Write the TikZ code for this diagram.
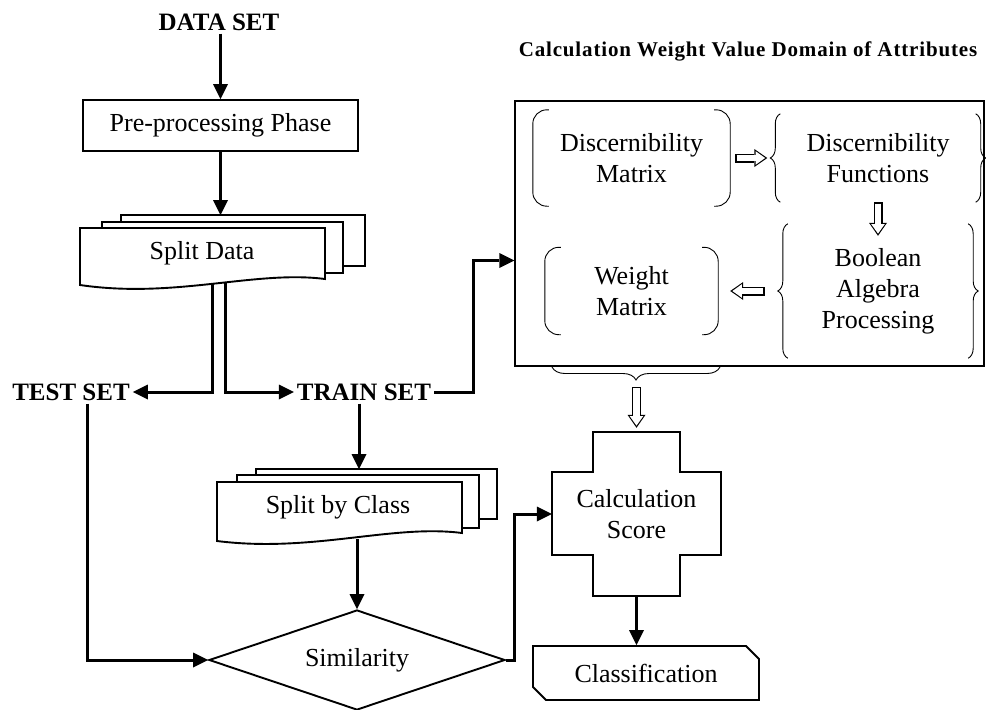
\documentclass[tikz,border=0pt]{standalone}
\usepackage{fontspec}
\setmainfont{Liberation Serif}
\newfontfamily\titlefont[LetterSpace=4]{Liberation Serif}
\usetikzlibrary{arrows.meta,shapes.geometric,shapes.misc,decorations.pathreplacing}

% round brackets on both sides of a node
\newcommand{\parenbox}[1]{%
  \draw[thinline, rounded corners=14pt] ([xshift=16pt]#1.north west) -| (#1.south west) -- ++(16pt,0);
  \draw[thinline, rounded corners=14pt] ([xshift=-16pt]#1.north east) -| (#1.south east) -- ++(-16pt,0);}
% curly braces on both sides of a node
\newcommand{\bracebox}[1]{%
  \draw[thinline, decorate, decoration={brace, amplitude=10pt}] (#1.south west) -- (#1.north west);
  \draw[thinline, decorate, decoration={brace, amplitude=10pt}] (#1.north east) -- (#1.south east);}
% hollow block arrow
\newcommand{\hollowarrow}[2]{%
  \draw[hollowout] #1 -- #2;
  \draw[hollowin] #1 -- #2;}

\begin{document}
\begin{tikzpicture}[x=1pt, y=-1pt, font=\fontsize{26}{31}\selectfont]
    \tikzstyle{box} = [draw, line width=1.9pt]
    \tikzstyle{doc} = [draw, line width=1.9pt, fill=white]
    \tikzstyle{thinline} = [line width=0.9pt]
    \tikzstyle{heading} = [font=\bfseries\fontsize{25}{30}\selectfont, inner sep=3pt]
    \tikzstyle{arrow} = [line width=3pt, -{Triangle[length=15pt,width=15pt,line width=0pt]}]
    \tikzstyle{hollowout} = [line width=9pt, -{Triangle[length=13pt,width=18pt,line width=0pt]}]
    \tikzstyle{hollowin} = [white, line width=6.2pt, shorten <=1.4pt, shorten >=2.2pt, -{Triangle[length=9.5pt,width=13.6pt,line width=0pt]}]

    \useasboundingbox (0,0) rectangle (986,710);

    % Left column
    \node[heading] (ds) at (219,22) {DATA SET};
    \node[box, minimum width=275pt, minimum height=51pt] (pre) at (220.5,125.5) {Pre-processing Phase};
    \coordinate (sdtop) at (220.5,215);
    \coordinate (sdl) at (212,282);
    \coordinate (sdr) at (225,282);
    \node[heading] (ts) at (71,392) {TEST SET};
    \node[heading] (tr) at (364,392) {TRAIN SET};
    \draw[arrow] (sdl) |- (ts.east);
    \draw[arrow] (sdr) |- (tr.west);

    % Split Data (stacked documents)
    \draw[doc] (121,215) rectangle (365,266);
    \draw[doc] (102,222) rectangle (343,273);
    \draw[doc] (80,228) -- (325,228) -- (325,279) .. controls (255,270) and (175,299) .. (80,285) -- cycle;
    \node (sd) at (202,253) {Split Data};

    % Split by Class (stacked documents)
    \coordinate (sbtop) at (359,469);
    \draw[doc] (256,469) rectangle (497,519);
    \draw[doc] (237,475) rectangle (479,528);
    \draw[doc] (217,482) -- (462,482) -- (462,533) .. controls (392,524) and (312,553) .. (217,541) -- cycle;
    \node (sbc) at (338,507) {Split by Class};
    \coordinate (sbbot) at (357,539);

    \node[diamond, draw, line width=1.9pt, aspect=3, inner sep=0pt, minimum width=296pt, minimum height=100pt] (sim) at (357,660) {Similarity};

    % Calculation Score (cross)
    \node[align=center, minimum width=169pt, minimum height=164pt] (cs) at (636.5,514) {Calculation\\Score};
    \draw[box] (593,432) -- (680,432) -- (680,472) -- (721,472) -- (721,555) -- (680,555) -- (680,596) -- (593,596) -- (593,555) -- (552,555) -- (552,472) -- (593,472) -- cycle;

    \node[draw, line width=1.9pt, chamfered rectangle, chamfered rectangle corners={north east, south west}, chamfered rectangle xsep=10pt, minimum width=226pt, minimum height=54pt] (cls) at (646,673) {Classification};

    % Weight value domain block
    \node[draw, line width=1.2pt, minimum width=469pt, minimum height=265pt] (cw) at (749.5,233.5) {};
    \node[font=\titlefont\bfseries\fontsize{21}{25}\selectfont] (title) at (748,51) {Calculation Weight Value Domain of Attributes};
    \node[align=center, minimum width=197pt, minimum height=96pt] (dm) at (631.5,158) {Discernibility\\Matrix};
    \node[align=center, minimum width=195pt, minimum height=88pt] (df) at (878,158) {Discernibility\\Functions};
    \node[align=center, minimum width=180pt, minimum height=134pt] (bap) at (878,291) {Boolean\\Algebra\\Processing};
    \node[align=center, minimum width=173pt, minimum height=87pt] (wm) at (631.5,291) {Weight\\Matrix};
    \parenbox{dm}
    \parenbox{wm}
    \bracebox{df}
    \bracebox{bap}
    \draw[thinline, decorate, decoration={brace, amplitude=13pt}] (720,367) -- (552,367);
    \coordinate (ub) at (636.5,387);

    % Hollow arrows
    \hollowarrow{([xshift=5pt]dm.east)}{([xshift=-13pt]df.west)}
    \hollowarrow{(df.south)}{([yshift=-12pt]bap.north)}
    \hollowarrow{([xshift=-23pt]bap.west)}{([xshift=12pt]wm.east)}
    \hollowarrow{(ub)}{([yshift=4pt]cs.north)}

    % Flow arrows
    \draw[arrow] (ds.south -| pre.north) -- (pre.north);
    \draw[arrow] (pre.south) -- (sdtop);
    \draw[arrow] ([xshift=16pt]ts.south) |- (sim.west);
    \draw[arrow] (tr.east) -- ++(39,0) |- ([yshift=-27pt]cw.west);
    \draw[arrow] ([xshift=-5pt]tr.south) -- (sbtop);
    \draw[arrow] (sbbot) -- (sim.north);
    \draw[arrow] (sim.east) -- ++(9,0) |- (cs.west);
    \draw[arrow] (cs.south) -- (cs.south |- cls.north);
\end{tikzpicture}
\end{document}
